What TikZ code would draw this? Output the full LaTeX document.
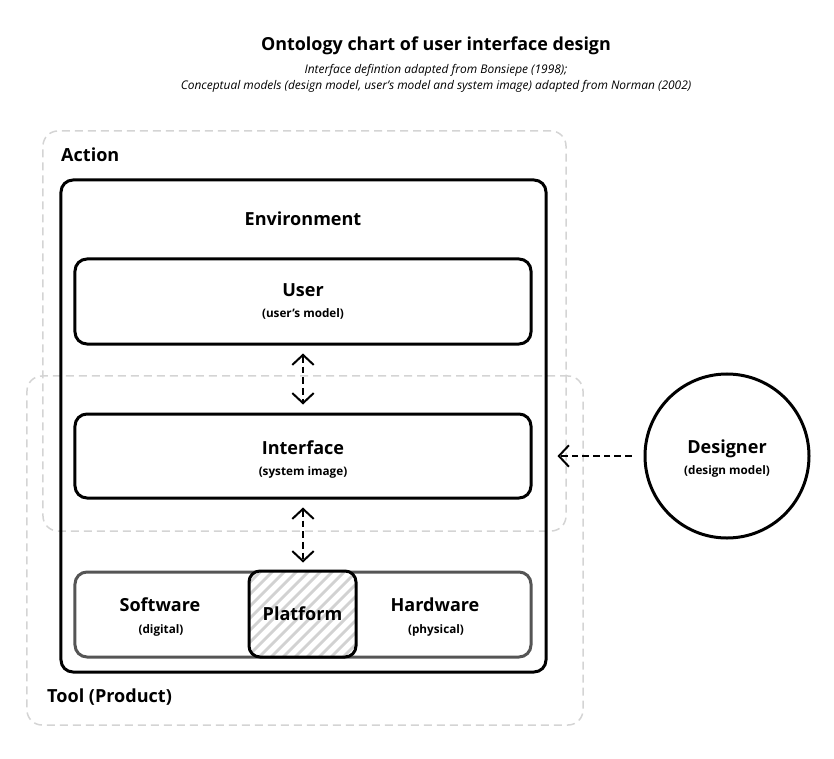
\documentclass[tikz,border=0pt]{standalone}
\usepackage{fontspec}
\setmainfont{Open Sans}
\usetikzlibrary{arrows.meta}

\definecolor{dashgray}{HTML}{D4D4D4}
\definecolor{basegray}{HTML}{555555}
\definecolor{hatchgray}{HTML}{D2D2D2}

\newcommand{\bigfont}{\fontsize{15.4}{18}\selectfont\bfseries}
\newcommand{\smallfont}{\fontsize{10}{12}\selectfont\bfseries}

\tikzset{
	bigtxt/.style={font=\bigfont},
	smalltxt/.style={font=\smallfont},
	outerbox/.style={draw=dashgray, line width=0.045cm, dash pattern=on 0.24cm off 0.15cm, rounded corners=0.45cm, inner sep=0pt},
	solidbox/.style={draw=black, line width=0.09cm, rounded corners=0.36cm, inner sep=0pt, align=center},
	dasharrow/.style={line width=0.06cm, dash pattern=on 0.2cm off 0.12cm, {Straight Barb[length=0.3cm,width=0.64cm]}-{Straight Barb[length=0.3cm,width=0.64cm]}, shorten <=0.24cm, shorten >=0.24cm}
}

\begin{document}
\begin{tikzpicture}[x=0.03cm, y=-0.03cm]
			\useasboundingbox (0,0) rectangle (834,759);

			% title
			\node[font=\fontsize{15.3}{18}\selectfont\bfseries] (title) at (436,46) {Ontology chart of user interface design};
			\node[font=\fontsize{10.2}{14}\selectfont\itshape, align=center] (subtitle) at (436,78.5) {Interface defintion adapted from Bonsiepe (1998);\\Conceptual models (design model, user’s model and system image) adapted from Norman (2002)};

			% dashed areas
			\node[outerbox, minimum width=15.69cm, minimum height=12cm] (action) at (304.5,331) {};
			\node[outerbox, minimum width=16.68cm, minimum height=10.47cm] (tool) at (305,550.5) {};
			\node[bigtxt, anchor=west, inner sep=0pt] at (61,155) {Action};
			\node[bigtxt, anchor=west, inner sep=0pt] at (47,697) {Tool (Product)};

			% environment
			\node[solidbox, minimum width=14.55cm, minimum height=14.76cm] (env) at (303.5,426) {};
			\node[bigtxt] at (303,219) {Environment};

			% layers
			\node[solidbox, minimum width=13.68cm, minimum height=2.55cm] (user) at (303,301.5) {\bigfont User\\[6pt]\smallfont (user’s model)};
			\node[solidbox, minimum width=13.68cm, minimum height=2.52cm] (iface) at (303,456) {\bigfont\rule{0pt}{17pt}Interface\\[6pt]\smallfont (system image)};
			\node[solidbox, draw=basegray, minimum width=13.68cm, minimum height=2.55cm] (base) at (303,614.5) {};
			\node[bigtxt] at (160,605) {Software};
			\node[smalltxt] at (161,630) {(digital)};
			\node[bigtxt] at (435,605) {Hardware};
			\node[smalltxt] at (436,630) {(physical)};

			% platform hatching
			\begin{scope}
				\clip[rounded corners=0.33cm] (249,571) rectangle (356,657);
				\fill[white] (249,571) rectangle (356,657);
				\foreach \x in {160,172,...,360}
					\draw[hatchgray, line width=0.085cm] (\x,660) -- (\x+92,568);
			\end{scope}
			\node[solidbox, minimum width=3.21cm, minimum height=2.58cm, rounded corners=0.33cm, bigtxt] (platform) at (302.5,614) {Platform};

			% designer
			\node[circle, draw=black, line width=0.09cm, minimum size=4.92cm, inner sep=0pt, align=center] (designer) at (727,456) {\bigfont\rule{0pt}{15.5pt}Designer\\[6pt]\smallfont (design model)};

			% arrows
			\draw[dasharrow] (user) -- (iface);
			\draw[dasharrow] (iface) -- (base);
			\draw[line width=0.06cm, dash pattern=on 0.2cm off 0.12cm, -{Straight Barb[length=0.3cm,width=0.64cm]}, shorten <=0.36cm, shorten >=0.3cm] (designer.west) -- (designer.west -| env.east);
		\end{tikzpicture}
\end{document}
